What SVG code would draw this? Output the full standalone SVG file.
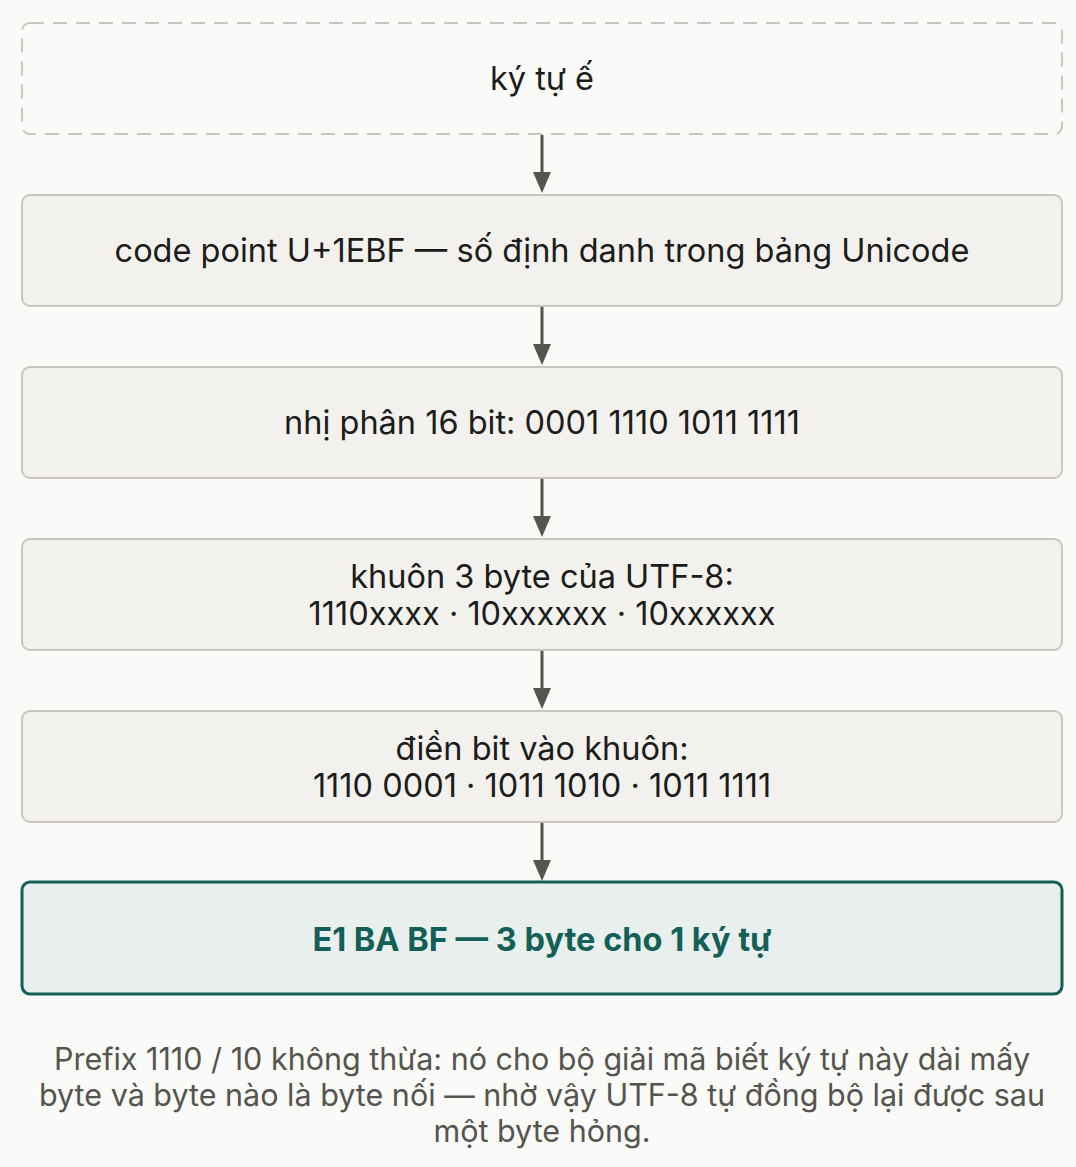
<svg xmlns="http://www.w3.org/2000/svg" width="1076" height="1167" viewBox="0 0 1076 1167">
<defs>
<style>
.box{fill:#f2f1ee;stroke:#cbc6bd;stroke-width:2}
.start{fill:none;stroke:#cbc6bd;stroke-width:2;stroke-dasharray:14 9}
.final{fill:#e8efed;stroke:#145f57;stroke-width:3}
.t{font-family:Inter,"Noto Sans",sans-serif;font-size:32.5px;fill:#1c1c1a;text-anchor:middle}
.tf{font-family:Inter,"Noto Sans",sans-serif;font-size:32.5px;font-weight:700;fill:#145f57;text-anchor:middle}
.cap{font-family:Inter,"Noto Sans",sans-serif;font-size:30.5px;fill:#55544f;text-anchor:middle}
.line{stroke:#555550;stroke-width:3}
.head{fill:#555550}
</style>
</defs>
<rect width="1076" height="1167" fill="#fafaf8"/>
<g id="connectors">
<path class="line" d="M542,135 V175"/>
<path class="head" d="M533,172 L551,172 L542,193 z"/>
<path class="line" d="M542,307 V347"/>
<path class="head" d="M533,344 L551,344 L542,365 z"/>
<path class="line" d="M542,479 V519"/>
<path class="head" d="M533,516 L551,516 L542,537 z"/>
<path class="line" d="M542,651 V691"/>
<path class="head" d="M533,688 L551,688 L542,709 z"/>
<path class="line" d="M542,823 V863"/>
<path class="head" d="M533,860 L551,860 L542,881 z"/>
</g>
<g id="n1">
<rect class="start" x="22" y="23" width="1040" height="111" rx="8"/>
<text class="t" x="542" y="90">ký tự ế</text>
</g>
<g id="n2">
<rect class="box" x="22" y="195" width="1040" height="111" rx="8"/>
<text class="t" x="542" y="262">code point U+1EBF — số định danh trong bảng Unicode</text>
</g>
<g id="n3">
<rect class="box" x="22" y="367" width="1040" height="111" rx="8"/>
<text class="t" x="542" y="434">nhị phân 16 bit: 0001 1110 1011 1111</text>
</g>
<g id="n4">
<rect class="box" x="22" y="539" width="1040" height="111" rx="8"/>
<text class="t" x="542" y="588">khuôn 3 byte của UTF-8:</text>
<text class="t" x="542" y="625">1110xxxx · 10xxxxxx · 10xxxxxx</text>
</g>
<g id="n5">
<rect class="box" x="22" y="711" width="1040" height="111" rx="8"/>
<text class="t" x="542" y="760">điền bit vào khuôn:</text>
<text class="t" x="542" y="797">1110 0001 · 1011 1010 · 1011 1111</text>
</g>
<g id="n6">
<rect class="final" x="22" y="882" width="1040" height="112" rx="8"/>
<text class="tf" x="542" y="951">E1 BA BF — 3 byte cho 1 ký tự</text>
</g>
<g id="caption">
<text class="cap" x="542" y="1070">Prefix 1110 / 10 không thừa: nó cho bộ giải mã biết ký tự này dài mấy</text>
<text class="cap" x="542" y="1106">byte và byte nào là byte nối — nhờ vậy UTF-8 tự đồng bộ lại được sau</text>
<text class="cap" x="542" y="1142">một byte hỏng.</text>
</g>
</svg>
